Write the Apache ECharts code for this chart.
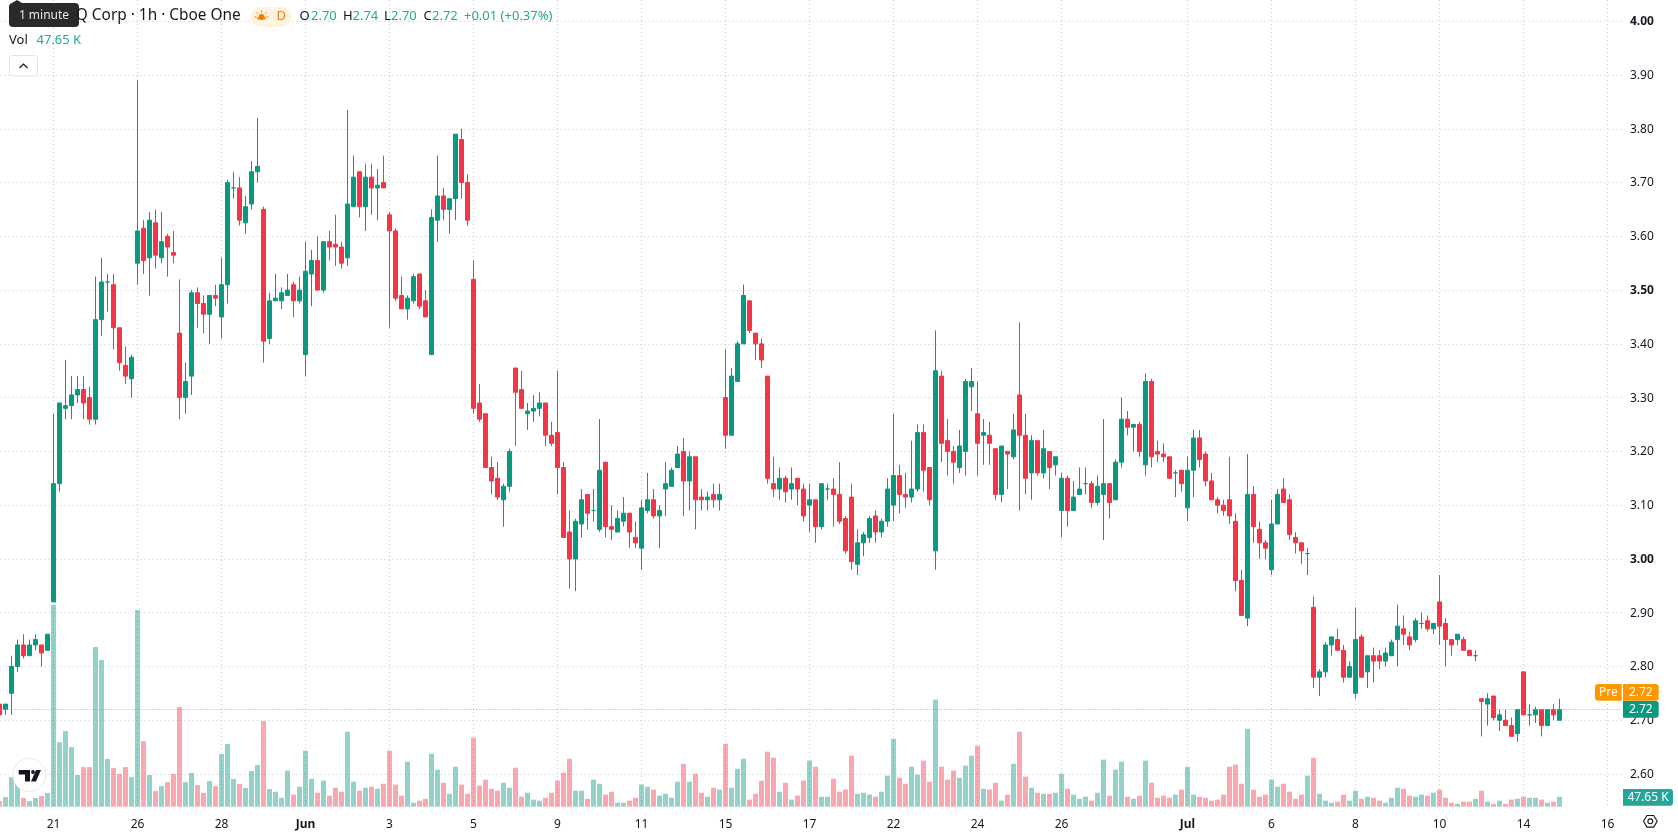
<!DOCTYPE html>
<html>
<head>
<meta charset="utf-8">
<style>html,body{margin:0;padding:0;background:#fff}#chart{width:1678px;height:835px}</style>
<script src="https://cdn.jsdelivr.net/npm/echarts@6/dist/echarts.min.js"></script>
</head>
<body>
<div id="chart"></div>
<script>
// Hourly session candles, oldest first.
const opens = [
2.73,2.72,2.75,2.80,2.84,2.82,2.84,2.84,2.83,2.92,
3.14,3.28,3.285,3.305,3.315,3.30,3.26,3.445,3.515,3.51,
3.43,3.36,3.335,3.55,3.615,3.56,3.625,3.56,3.60,3.57,
3.42,3.30,3.34,3.495,3.475,3.455,3.49,3.45,3.51,3.69,
3.69,3.625,3.66,3.72,3.65,3.41,3.48,3.48,3.49,3.51,
3.48,3.38,3.53,3.555,3.50,3.59,3.585,3.58,3.56,3.655,
3.72,3.655,3.71,3.69,3.70,3.64,3.61,3.49,3.465,3.48,
3.53,3.48,3.38,3.63,3.675,3.65,3.67,3.78,3.70,3.52,
3.29,3.27,3.17,3.15,3.11,3.135,3.355,3.315,3.27,3.275,
3.28,3.29,3.23,3.235,3.17,3.05,3.00,3.065,3.12,3.09,
3.055,3.18,3.06,3.05,3.07,3.085,3.04,3.02,3.09,3.11,
3.08,3.13,3.135,3.17,3.20,3.145,3.19,3.115,3.11,3.12,
3.11,3.30,3.23,3.33,3.40,3.48,3.42,3.40,3.34,3.14,
3.13,3.15,3.13,3.15,3.13,3.10,3.11,3.06,3.13,3.13,
3.12,3.075,3.115,2.99,3.03,3.04,3.08,3.05,3.07,3.10,
3.155,3.12,3.115,3.13,3.235,3.17,3.015,3.34,3.22,3.20,
3.17,3.20,3.32,3.27,3.23,3.23,3.205,3.12,3.20,3.19,
3.305,3.23,3.16,3.22,3.16,3.20,3.175,3.09,3.15,3.09,
3.12,3.14,3.14,3.105,3.12,3.14,3.11,3.18,3.26,3.245,
3.25,3.175,3.33,3.20,3.195,3.19,3.16,3.165,3.095,3.165,
3.225,3.195,3.145,3.11,3.10,3.11,3.07,2.96,2.89,3.12,
3.055,3.03,2.98,3.065,3.13,3.11,3.04,3.03,3.01,2.91,
2.78,2.79,2.84,2.85,2.83,2.78,2.75,2.855,2.79,2.82,
2.82,2.81,2.82,2.85,2.87,2.855,2.85,2.88,2.885,2.87,
2.92,2.88,2.85,2.85,2.85,2.83,2.82,2.74,2.73,2.745,
2.70,2.70,2.69,2.675,2.79,2.71,2.71,2.72,2.69,2.72,
2.70];
const closes = [
2.71,2.73,2.80,2.84,2.82,2.84,2.85,2.825,2.86,3.14,
3.29,3.285,3.305,3.315,3.29,3.26,3.445,3.515,3.515,3.43,
3.365,3.34,3.375,3.61,3.555,3.63,3.565,3.59,3.58,3.565,
3.30,3.33,3.495,3.475,3.455,3.49,3.485,3.51,3.70,3.69,
3.63,3.655,3.72,3.73,3.405,3.48,3.485,3.495,3.50,3.48,
3.50,3.535,3.555,3.50,3.59,3.58,3.58,3.55,3.66,3.71,
3.655,3.71,3.69,3.695,3.69,3.61,3.485,3.465,3.485,3.525,
3.47,3.45,3.635,3.675,3.65,3.67,3.79,3.70,3.63,3.28,
3.26,3.17,3.145,3.115,3.135,3.20,3.31,3.28,3.275,3.28,
3.29,3.23,3.215,3.17,3.04,3.00,3.07,3.11,3.085,3.09,
3.165,3.06,3.055,3.075,3.085,3.05,3.03,3.095,3.11,3.08,
3.09,3.14,3.165,3.195,3.145,3.19,3.11,3.11,3.115,3.11,
3.12,3.23,3.34,3.40,3.49,3.425,3.40,3.37,3.15,3.13,
3.15,3.125,3.14,3.13,3.08,3.11,3.06,3.14,3.13,3.12,
3.07,3.015,2.995,3.03,3.045,3.075,3.05,3.07,3.13,3.155,
3.12,3.115,3.13,3.235,3.165,3.11,3.35,3.215,3.20,3.18,
3.21,3.33,3.33,3.215,3.235,3.215,3.12,3.21,3.195,3.24,
3.23,3.15,3.22,3.16,3.205,3.17,3.19,3.15,3.09,3.115,
3.13,3.14,3.105,3.135,3.14,3.105,3.18,3.26,3.245,3.25,
3.20,3.33,3.19,3.195,3.19,3.15,3.16,3.14,3.165,3.225,
3.185,3.145,3.11,3.10,3.09,3.08,2.96,2.895,3.12,3.06,
3.03,3.02,3.065,3.12,3.105,3.045,3.03,3.015,3.01,2.78,
2.79,2.84,2.855,2.83,2.78,2.80,2.85,2.78,2.82,2.81,
2.81,2.825,2.845,2.875,2.86,2.84,2.885,2.88,2.87,2.88,
2.875,2.85,2.84,2.86,2.83,2.82,2.82,2.735,2.74,2.705,
2.71,2.69,2.67,2.72,2.71,2.71,2.72,2.69,2.72,2.71,
2.72];
const lows = [
2.71,2.71,2.71,2.79,2.815,2.82,2.83,2.80,2.83,2.92,
3.125,3.26,3.26,3.29,3.26,3.25,3.25,3.415,3.46,3.39,
3.35,3.325,3.30,3.51,3.53,3.49,3.54,3.55,3.525,3.55,
3.26,3.27,3.305,3.43,3.42,3.40,3.47,3.41,3.475,3.67,
3.62,3.605,3.65,3.70,3.365,3.40,3.48,3.465,3.49,3.45,
3.475,3.34,3.47,3.50,3.495,3.555,3.545,3.54,3.545,3.655,
3.635,3.61,3.64,3.63,3.69,3.43,3.48,3.465,3.445,3.475,
3.465,3.45,3.38,3.59,3.63,3.605,3.63,3.67,3.62,3.27,
3.255,3.17,3.12,3.11,3.06,3.125,3.21,3.28,3.24,3.255,
3.265,3.21,3.21,3.12,3.04,2.945,2.94,3.04,3.055,3.07,
3.05,3.04,3.035,3.05,3.06,3.02,3.02,2.98,3.085,3.075,
3.02,3.08,3.135,3.17,3.08,3.09,3.055,3.09,3.09,3.095,
3.09,3.205,3.23,3.33,3.40,3.42,3.37,3.355,3.14,3.115,
3.11,3.105,3.11,3.10,3.07,3.05,3.03,3.055,3.11,3.06,
3.065,3.01,2.98,2.97,3.005,3.03,3.03,3.04,3.06,3.07,
3.085,3.095,3.105,3.125,3.125,3.10,2.98,3.18,3.155,3.14,
3.16,3.155,3.275,3.155,3.175,3.175,3.11,3.105,3.13,3.185,
3.09,3.12,3.11,3.155,3.15,3.13,3.155,3.04,3.06,3.09,
3.12,3.12,3.095,3.10,3.035,3.075,3.11,3.17,3.23,3.20,
3.19,3.155,3.17,3.18,3.18,3.15,3.115,3.125,3.07,3.115,
3.17,3.135,3.11,3.085,3.08,3.065,2.94,2.895,2.875,3.03,
3.00,3.00,2.97,3.065,3.105,3.035,3.01,2.99,2.97,2.76,
2.745,2.78,2.82,2.83,2.77,2.78,2.74,2.78,2.76,2.77,
2.795,2.80,2.82,2.80,2.84,2.83,2.845,2.87,2.865,2.86,
2.84,2.80,2.82,2.84,2.83,2.82,2.81,2.67,2.69,2.70,
2.68,2.69,2.67,2.66,2.71,2.69,2.695,2.67,2.69,2.70,
2.70];
const highs = [
2.73,2.73,2.82,2.85,2.86,2.85,2.86,2.84,2.86,3.27,
3.29,3.37,3.34,3.34,3.34,3.32,3.525,3.56,3.53,3.53,
3.43,3.395,3.38,3.89,3.63,3.645,3.65,3.645,3.605,3.61,
3.52,3.365,3.50,3.505,3.49,3.49,3.51,3.56,3.705,3.72,
3.71,3.675,3.74,3.82,3.655,3.495,3.53,3.505,3.53,3.515,
3.525,3.59,3.575,3.60,3.59,3.61,3.64,3.59,3.835,3.75,
3.72,3.735,3.735,3.725,3.75,3.645,3.615,3.525,3.49,3.53,
3.53,3.50,3.65,3.75,3.69,3.67,3.79,3.80,3.715,3.555,
3.325,3.27,3.19,3.18,3.14,3.205,3.355,3.35,3.29,3.305,
3.31,3.29,3.255,3.35,3.18,3.09,3.075,3.13,3.12,3.13,
3.26,3.18,3.10,3.09,3.115,3.085,3.07,3.11,3.16,3.13,
3.10,3.18,3.17,3.21,3.225,3.20,3.19,3.13,3.125,3.14,
3.14,3.39,3.355,3.405,3.51,3.48,3.42,3.41,3.34,3.19,
3.17,3.155,3.17,3.15,3.14,3.14,3.11,3.14,3.14,3.15,
3.18,3.08,3.14,3.055,3.05,3.08,3.09,3.075,3.15,3.27,
3.175,3.16,3.22,3.25,3.25,3.17,3.425,3.35,3.26,3.21,
3.24,3.335,3.355,3.33,3.26,3.255,3.205,3.21,3.20,3.27,
3.44,3.27,3.23,3.22,3.24,3.20,3.19,3.16,3.155,3.145,
3.17,3.17,3.145,3.155,3.26,3.14,3.185,3.30,3.275,3.25,
3.255,3.345,3.335,3.22,3.215,3.19,3.165,3.165,3.19,3.24,
3.24,3.20,3.16,3.115,3.11,3.19,3.085,2.98,3.195,3.135,
3.07,3.035,3.11,3.13,3.15,3.12,3.05,3.03,3.02,2.93,
2.795,2.845,2.855,2.87,2.84,2.81,2.91,2.86,2.82,2.835,
2.83,2.835,2.85,2.915,2.895,2.865,2.89,2.90,2.895,2.88,
2.97,2.89,2.85,2.86,2.855,2.83,2.83,2.74,2.75,2.745,
2.72,2.72,2.705,2.72,2.79,2.73,2.725,2.72,2.72,2.73,
2.74];
// Volume per bar, in thousands of shares.
const volumes = [
27,46,142,128,42,27,42,51,66,968,
310,363,286,152,190,190,766,704,229,186,
157,190,142,944,315,152,75,99,118,157,
478,118,162,104,66,123,99,253,301,133,
109,90,171,200,411,85,72,43,173,58,
96,269,134,67,125,53,91,72,360,120,
77,91,96,86,110,269,106,53,216,19,
29,38,254,178,115,62,192,106,62,331,
101,130,86,77,115,91,187,48,67,34,
29,43,67,125,163,230,77,77,38,130,
110,58,72,19,19,29,43,106,96,82,
53,62,43,120,206,120,158,67,48,91,
82,302,91,182,230,34,62,125,264,235,
72,115,34,53,125,221,192,48,48,134,
72,82,245,62,67,58,48,72,149,326,
139,110,192,154,221,120,514,192,130,173,
139,197,245,293,86,82,115,29,58,206,
360,144,91,67,62,62,67,158,86,58,
38,48,29,67,226,53,178,216,48,38,
53,221,115,43,53,43,58,82,192,58,
48,43,29,34,58,192,202,110,374,82,
48,58,130,96,110,72,38,58,149,235,
62,29,19,24,58,29,77,38,48,43,
29,19,43,91,86,53,48,58,53,67,
82,43,19,14,24,24,38,77,24,14,
29,14,34,38,48,43,43,34,19,24,
47.65];
// Date labels keyed by bar index; the axis runs a few empty bars past the last candle.
const dateTicks = {9:'21',23:'26',37:'28',51:'Jun',65:'3',79:'5',93:'9',107:'11',121:'15',135:'17',149:'22',163:'24',177:'26',198:'Jul',212:'6',226:'8',240:'10',254:'14',268:'16'};
const emptyBarsAfterLast = 10;
const priceTicksBold = ['4.00','3.50','3.00'];
const lastClose = 2.72;
const preMarket = 2.72;
const lastVolume = '47.65 K';

const UP = '#089981', DOWN = '#F23645';
const FONT = '"Noto Sans", sans-serif';
const GRIDLINE = {color:'#c6c8ce', width:1, type:[1,3]};

const categories = [];
for (let i = 0; i < opens.length + emptyBarsAfterLast; i++) categories.push(dateTicks[i] || '');
const candles = opens.map((o,i) => [o, closes[i], lows[i], highs[i]]);
const volumeBars = volumes.map((v,i) => ({
  value: v,
  itemStyle: {color: closes[i] >= opens[i] ? 'rgba(8,153,129,0.44)' : 'rgba(242,54,69,0.43)'}
}));

const chart = echarts.init(document.getElementById('chart'), null, {renderer:'canvas', width:1678, height:835});

chart.setOption({
  animation: false,
  backgroundColor: '#ffffff',
  textStyle: {fontFamily: FONT},
  grid: [
    {left:-3.5, width:1626, top:-32.54, height:860.32, outerBoundsMode:'none'},   // price pane
    {left:-3.5, width:1626, top:0, height:806.7, outerBoundsMode:'none'}           // volume and time pane
  ],
  xAxis: [
    {type:'category', gridIndex:0, data:categories, show:false},
    {type:'category', gridIndex:1, data:categories,
      axisLine:{show:false}, axisTick:{show:false},
      splitLine:{show:true, alignWithLabel:true, interval:(i)=>!!dateTicks[i], lineStyle:GRIDLINE},
      axisLabel:{interval:(i)=>!!dateTicks[i], margin:12, fontSize:12, color:'#131722', fontFamily:FONT,
        formatter:(v)=> (v==='Jun'||v==='Jul') ? '{b|'+v+'}' : v,
        rich:{b:{fontWeight:'bold', fontSize:12, color:'#131722', fontFamily:FONT}}}}
  ],
  yAxis: [
    {type:'value', gridIndex:0, position:'right', min:2.5, max:4.1, interval:0.1,
      axisLine:{show:false}, axisTick:{show:false},
      splitLine:{show:true, showMinLine:false, lineStyle:GRIDLINE},
      axisLabel:{margin:7.5, fontSize:12, color:'#131722', fontFamily:FONT, align:'left', padding:[1,0,0,0],
        showMinLabel:false,
        formatter:(v)=>{ const t=v.toFixed(2); if(t==='2.50'||t==='4.10') return ''; return priceTicksBold.includes(t)?'{b|'+t+'}':t; },
        rich:{b:{fontWeight:'bold', fontSize:12, color:'#131722', fontFamily:FONT}}}},
    {type:'value', gridIndex:1, min:0, max:3872, show:false, splitLine:{show:false}}
  ],
  series: [
    {type:'bar', name:'Vol', xAxisIndex:1, yAxisIndex:1, data:volumeBars, barWidth:5, z:2, silent:true},
    {type:'candlestick', name:'Price', xAxisIndex:0, yAxisIndex:0, data:candles, barWidth:5, z:3, silent:true,
      itemStyle:{color:UP, color0:DOWN, borderColor:UP, borderColor0:DOWN, borderColorDoji:UP, borderWidth:1},
      markLine:{silent:true, symbol:'none', label:{show:false}, animation:false,
        lineStyle:{color:'#FF9800', width:1, type:[1,2]}, data:[{yAxis:preMarket}]}}
  ]
});

// Header legend, last-price tags and pane furniture.
const yLast = chart.convertToPixel({yAxisIndex:0}, lastClose);
const txt = (x,y,text,fill,size,extra) => ({type:'text', x, y, z:50, style:Object.assign({text, fill, font:(size||13)+'px '+FONT, textVerticalAlign:'middle'}, extra||{})});
const box = (x,y,w,h,fill,r,extra) => ({type:'rect', z:49, shape:{x,y,width:w,height:h,r:r||0}, style:Object.assign({fill}, extra||{})});
const TEAL = '#22AB94', ORANGE = '#FF9800';
const line = (x1,y1,x2,y2,stroke,w) => ({type:'line', z:51, shape:{x1,y1,x2,y2}, style:{stroke, lineWidth:w||1}});

chart.setOption({graphic:{elements:[
  // symbol title and interval hint
  txt(240.7,16,'Q Corp · 1h · Cboe One','#131722',15.4,{textAlign:'right'}),
  box(9,3,70,24,'#2A2A2D',4,{}),
  {type:'polygon', z:49, shape:{points:[[12,3],[17,0],[22,3]]}, style:{fill:'#2A2A2D'}},
  txt(44,15.5,'1 minute','#e8e8e8',12,{textAlign:'center'}),
  // market status badge
  box(251,7,41,20,'#FFF3E0',10),
  {type:'circle', z:51, shape:{cx:261.5,cy:17,r:3}, style:{fill:'#F57C00'}},
  box(255,17.5,13,3,'#FFF3E0'),
  line(261.5,10.5,261.5,12.5,'#F57C00'), line(256.5,12.5,258,14,'#F57C00'), line(266.5,12.5,265,14,'#F57C00'),
  line(254.5,17,256.5,17,'#F57C00'), line(266.5,17,268.5,17,'#F57C00'), line(257,18.5,266,18.5,'#F57C00',1.5),
  txt(276.5,16,'D','#F57C00',13),
  // OHLC readout
  txt(299.5,16,'O','#131722'), txt(311,16,'2.70',TEAL),
  txt(343,16,'H','#131722'), txt(352.5,16,'2.74',TEAL),
  txt(384,16,'L','#131722'), txt(391,16,'2.70',TEAL),
  txt(423.5,16,'C','#131722'), txt(432,16,'2.72',TEAL),
  txt(464,16,'+0.01 (+0.37%)',TEAL),
  // volume readout and collapse button
  txt(9,40.5,'Vol','#131722'), txt(36.5,40.5,lastVolume,TEAL),
  box(9.5,55.5,28,20.5,'#ffffff',3,{stroke:'#E0E3EB',lineWidth:1}),
  {type:'polyline', z:51, shape:{points:[[19.5,68],[23.5,64],[27.5,68]]}, style:{stroke:'#131722',lineWidth:1.2,fill:'none'}},
  // attribution badge
  {type:'circle', z:48, shape:{cx:29.3,cy:775,r:16.5}, style:{fill:'#ffffff',stroke:'#E9E9EA',lineWidth:1}},
  {type:'polygon', z:49, shape:{points:[[18.7,770],[30,770],[30,781.5],[25,781.5],[25,774.5],[18.7,774.5]]}, style:{fill:'#131722'}},
  {type:'circle', z:49, shape:{cx:33,cy:772,r:1.9}, style:{fill:'#131722'}},
  {type:'polygon', z:49, shape:{points:[[36,770],[41,770],[36,781.5],[31,781.5]]}, style:{fill:'#131722'}},
  // price tags on the right
  {type:'rect', z:49, shape:{x:1595,y:yLast-25.5,width:26.7,height:16.7,r:[3,0,0,3]}, style:{fill:ORANGE}},
  txt(1608.3,yLast-16.8,'Pre','#ffffff',12,{textAlign:'center'}),
  {type:'rect', z:49, shape:{x:1623,y:yLast-25.5,width:35.7,height:16.7,r:[0,3,3,0]}, style:{fill:ORANGE}},
  txt(1640.8,yLast-16.8,preMarket.toFixed(2),'#ffffff',12,{textAlign:'center'}),
  {type:'rect', z:49, shape:{x:1623,y:yLast-8.5,width:35.7,height:16.7,r:[0,3,3,0]}, style:{fill:UP}},
  txt(1640.8,yLast,lastClose.toFixed(2),'#ffffff',12,{textAlign:'center'}),
  {type:'rect', z:49, shape:{x:1623,y:789,width:50,height:16.7,r:[0,3,3,0]}, style:{fill:'#26A69A'}},
  txt(1648,797.6,lastVolume,'#ffffff',12,{textAlign:'center'}),
  // scale settings icon
  {type:'polygon', z:50, shape:{points:[[1643.5,821.3],[1647,815.5],[1653.7,815.5],[1657.2,821.3],[1653.7,827.1],[1647,827.1]]}, style:{fill:'none',stroke:'#131722',lineWidth:1.1}},
  {type:'circle', z:50, shape:{cx:1650.3,cy:821.3,r:2.4}, style:{fill:'none',stroke:'#131722',lineWidth:1.1}}
]}});
</script>
</body>
</html>
